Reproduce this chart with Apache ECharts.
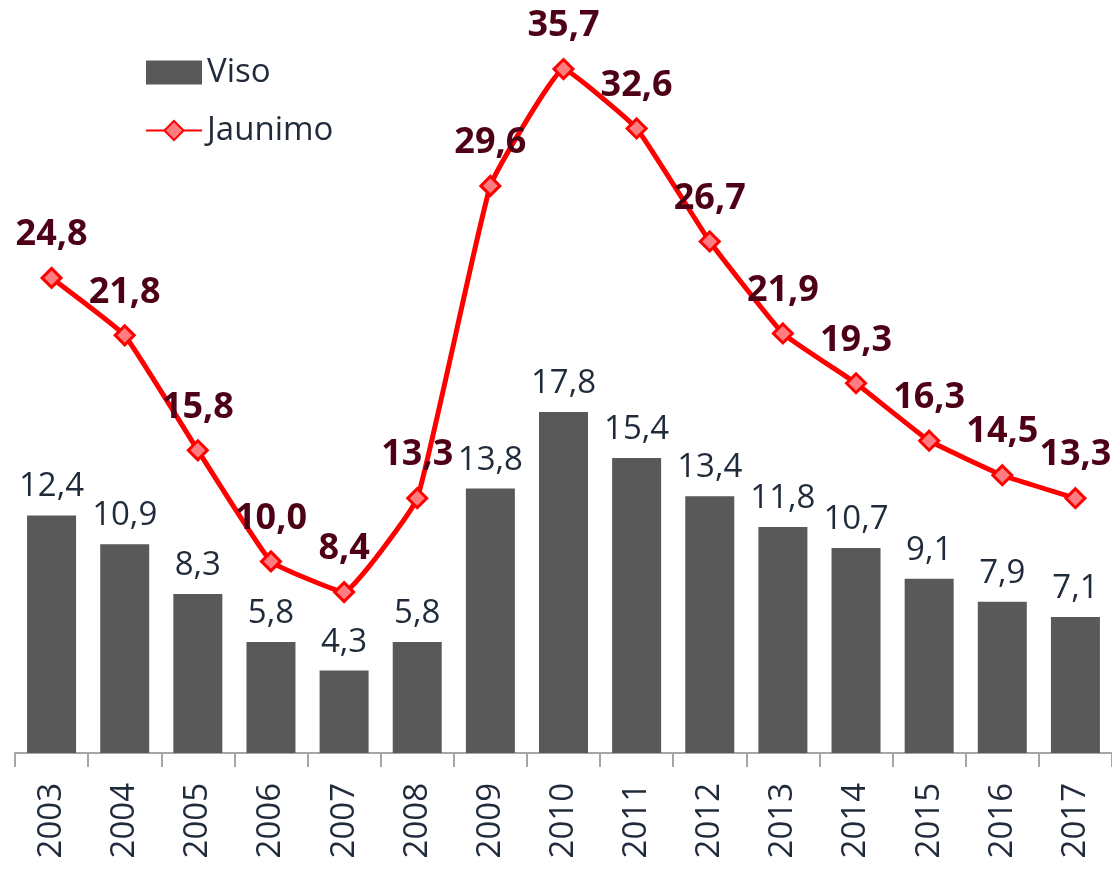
<!DOCTYPE html>
<html>
<head>
<meta charset="utf-8">
<script src="https://cdn.jsdelivr.net/npm/echarts@6/dist/echarts.min.js"></script>
<style>
  html, body { margin: 0; padding: 0; background: #fff; }
  #chart { width: 1112px; height: 869px; }
</style>
</head>
<body>
<div id="chart"></div>
<script>
// metai ir nedarbo lygis
const years = ["2003", "2004", "2005", "2006", "2007", "2008", "2009", "2010", "2011", "2012", "2013", "2014", "2015", "2016", "2017"];
const viso = [12.4, 10.9, 8.3, 5.8, 4.3, 5.8, 13.8, 17.8, 15.4, 13.4, 11.8, 10.7, 9.1, 7.9, 7.1];
const jaunimo = [24.8, 21.8, 15.8, 10.0, 8.4, 13.3, 29.6, 35.7, 32.6, 26.7, 21.9, 19.3, 16.3, 14.5, 13.3];

const fontFam = '"Open Sans", "Noto Sans", sans-serif';
const fmt = (p) => p.value.toFixed(1).replace(".", ",");

const chart = echarts.init(document.getElementById("chart"));

const options = {
    animation: false,
    textStyle: { fontFamily: fontFam },
    legend: {
        orient: "vertical",
        left: 140,
        top: 51,
        itemWidth: 56,
        itemHeight: 24,
        itemGap: 25,
        textStyle: { fontSize: 33, color: "#1f2a3a", fontFamily: fontFam },
        data: [
            { name: "Viso", icon: "rect" },
            { name: "Jaunimo" }
        ]
    },
    grid: { left: 15, width: 1103, top: 25, bottom: 116, containLabel: false },
    xAxis: {
        type: "category",
        data: years,
        axisLine: { lineStyle: { color: "#a6a6a6", width: 2 } },
        axisTick: { show: true, length: 14, lineStyle: { color: "#a6a6a6", width: 2 } },
        axisLabel: { rotate: 90, fontSize: 33, color: "#1f2a3a", margin: 30, fontFamily: fontFam }
    },
    yAxis: {
        type: "value",
        min: 0,
        max: 38,
        show: false,
        splitLine: { show: false }
    },
    series: [
        {
            name: "Viso",
            type: "bar",
            data: viso,
            barWidth: 49,
            itemStyle: { color: "#595959" },
            label: {
                show: true,
                position: "top",
                distance: 12,
                formatter: fmt,
                fontSize: 33,
                color: "#1f2a3a",
                fontFamily: fontFam
            }
        },
        {
            name: "Jaunimo",
            type: "line",
            data: jaunimo,
            smooth: 0.1,
            symbol: "diamond",
            symbolSize: 19,
            lineStyle: { color: "#ff0000", width: 5 },
            itemStyle: { color: "#ff7c80", borderColor: "#ff0000", borderWidth: 3 },
            label: {
                show: true,
                position: "top",
                distance: 14,
                formatter: fmt,
                fontSize: 36,
                fontWeight: "bold",
                color: "#4d0016",
                fontFamily: fontFam
            },
            z: 3
        }
    ]
};

chart.setOption(options);
</script>
</body>
</html>
